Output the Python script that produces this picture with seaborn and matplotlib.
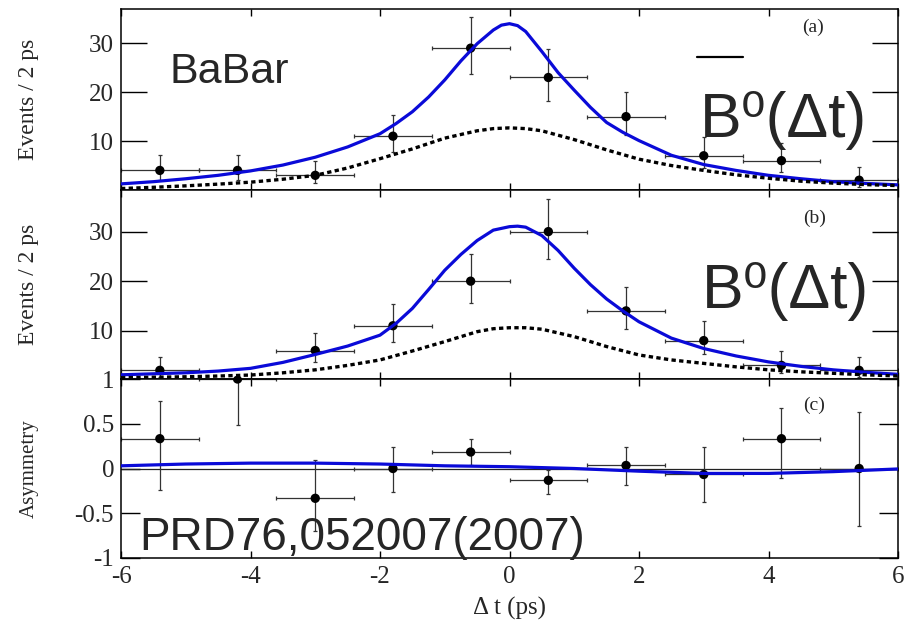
import numpy as np
import pandas as pd
import matplotlib
matplotlib.use("Agg")
import matplotlib.pyplot as plt
from matplotlib.lines import Line2D
import seaborn as sns

# ---------------- data ----------------
bin_centers = [-5.4, -4.2, -3.0, -1.8, -0.6, 0.6, 1.8, 3.0, 4.2, 5.4]
bin_half = 0.6

events_a = [4, 4, 3, 11, 29, 23, 15, 7, 6, 2]
err_a_lo = [1.91, 1.91, 1.63, 3.30, 5.36, 4.77, 3.83, 2.58, 2.38, 1.29]
err_a_hi = [3.16, 3.16, 2.92, 4.38, 6.44, 5.84, 4.96, 3.77, 3.58, 2.64]

events_b = [2, 0, 6, 11, 20, 30, 14, 8, 3, 2]
err_b_lo = [1.29, 0.0, 2.38, 3.30, 4.44, 5.46, 3.70, 2.77, 1.63, 1.29]
err_b_hi = [2.64, 0.0, 3.58, 4.38, 5.53, 6.54, 4.84, 3.94, 2.92, 2.64]

asym = [0.333, 1.0, -0.333, 0.0, 0.184, -0.132, 0.034, -0.067, 0.333, 0.0]
asym_lo = [0.57, 0.51, 0.36, 0.26, 0.15, 0.15, 0.22, 0.31, 0.44, 0.64]
asym_hi = [0.42, 0.0, 0.43, 0.24, 0.15, 0.12, 0.21, 0.31, 0.34, 0.63]

fit_a_t = [-6, -5.5, -5, -4.5, -4, -3.5, -3, -2.5, -2, -1.75, -1.5, -1.25, -1, -0.75,
           -0.5, -0.25, -0.125, 0, 0.125, 0.25, 0.5, 0.75, 1, 1.25, 1.5, 1.75, 2,
           2.5, 3, 3.5, 4, 4.5, 5, 5.5, 6]
fit_a = [1.25, 1.7, 2.3, 3.0, 3.9, 5.1, 6.7, 8.8, 11.5, 13.6, 16.0, 19.0, 22.5, 26.4,
         29.9, 32.7, 33.7, 34.0, 33.6, 32.4, 28.3, 24.0, 20.4, 16.9, 13.8, 11.8, 10.1,
         7.1, 5.2, 4.0, 3.0, 2.3, 1.7, 1.35, 1.05]
bkg_a_t = [-6, -5.5, -5, -4.5, -4, -3.5, -3, -2.5, -2, -1.5, -1, -0.5, -0.25, 0,
           0.25, 0.5, 1, 1.5, 2, 2.5, 3, 3.5, 4, 4.5, 5, 5.5, 6]
bkg_a = [0.3, 0.55, 0.85, 1.2, 1.6, 2.2, 3.0, 4.5, 6.4, 8.4, 10.6, 12.1, 12.55, 12.7,
         12.55, 12.1, 10.3, 8.2, 6.3, 5.0, 4.0, 3.1, 2.4, 1.8, 1.4, 1.1, 0.9]

fit_b_t = [-6, -5.5, -5, -4.5, -4, -3.5, -3, -2.5, -2, -1.75, -1.5, -1.25, -1, -0.75,
           -0.5, -0.25, 0, 0.125, 0.25, 0.5, 0.75, 1, 1.25, 1.5, 1.75, 2, 2.5, 3,
           3.5, 4, 4.5, 5, 5.5, 6]
fit_b = [1.1, 1.3, 1.5, 1.85, 2.4, 3.6, 5.2, 6.9, 9.1, 11.5, 14.5, 18.3, 22.2, 25.4,
         28.2, 30.3, 31.0, 31.1, 30.9, 29.2, 26.2, 22.6, 19.3, 16.4, 14.0, 11.8, 8.5,
         6.4, 4.9, 3.7, 2.8, 2.1, 1.6, 1.2]
bkg_b_t = [-6, -5.5, -5, -4.5, -4, -3.5, -3, -2.5, -2, -1.5, -1, -0.5, -0.25, 0,
           0.25, 0.5, 1, 1.5, 2, 2.5, 3, 3.5, 4, 4.5, 5, 5.5, 6]
bkg_b = [0.5, 0.6, 0.7, 0.85, 1.05, 1.5, 2.1, 3.0, 4.1, 5.9, 7.8, 9.8, 10.4, 10.6,
         10.6, 10.3, 8.8, 6.8, 5.1, 4.1, 3.4, 2.7, 2.1, 1.7, 1.4, 1.1, 0.85]

fit_c_t = [-6, -5, -4, -3, -2, -1, 0, 1, 2, 3, 4, 5, 6]
fit_c = [0.03, 0.05, 0.06, 0.06, 0.05, 0.03, 0.02, 0.0, -0.03, -0.055, -0.055, -0.035, -0.005]

x_ticks = [-6, -4, -2, 0, 2, 4, 6]
events_ticks = [10, 20, 30]
asym_ticks = [-1, -0.5, 0, 0.5, 1]
asym_ticklabels = ["-1", "-0.5", "0", "0.5", "1"]

# ---------------- style ----------------
sns.set_theme(style="ticks")
plt.rcParams["font.family"] = ["Liberation Serif", "DejaVu Serif"]
plt.rcParams["axes.unicode_minus"] = False

W, H = 913, 621
fig = plt.figure(figsize=(W / 100, H / 100), dpi=100)

L, R = 121, 898
def axes_px(top, bottom):
    return fig.add_axes([L / W, 1 - bottom / H, (R - L) / W, (bottom - top) / H])

ax_a = axes_px(9, 190)
ax_b = axes_px(190, 379)
ax_c = axes_px(379, 558)

BLUE = "#0a0ad8"
SANS = ["Liberation Sans", "DejaVu Sans"]

def draw_data(ax, y, lo, hi):
    ax.errorbar(bin_centers, y, yerr=[lo, hi], xerr=bin_half, fmt="none",
                ecolor="#333333", elinewidth=0.9, capsize=1.6, capthick=0.9, zorder=2)
    sns.scatterplot(x=bin_centers, y=y, ax=ax, color="black", s=45,
                    edgecolor="none", zorder=3, legend=False)

def style_axes(ax, ylen):
    ax.set_xlim(-6, 6)
    ax.set_xticks(x_ticks)
    ax.tick_params(axis="x", direction="in", top=True, bottom=True, length=5,
                   width=1.0, color="black", labelsize=18, pad=6)
    ax.tick_params(axis="y", direction="in", left=True, right=True, length=ylen,
                   width=1.0, color="black", labelsize=18, pad=5)
    for s in ax.spines.values():
        s.set_visible(True)
        s.set_linewidth(1.1)
        s.set_color("black")

def draw_curve(ax, t, v, color, dotted=False):
    sns.lineplot(x=t, y=v, ax=ax, color=color, lw=2.3 if not dotted else 2.4,
                 zorder=4, sort=True)
    line = ax.lines[-1]
    line.set_solid_joinstyle("round")
    if dotted:
        line.set_linestyle((0, (1.3, 1.0)))

# panel a
draw_data(ax_a, events_a, err_a_lo, err_a_hi)
draw_curve(ax_a, fit_a_t, fit_a, BLUE)
draw_curve(ax_a, bkg_a_t, bkg_a, "black", dotted=True)
ax_a.set_ylim(0, 37)
ax_a.set_yticks(events_ticks)
style_axes(ax_a, 19)
ax_a.tick_params(axis="x", labelbottom=False)
ax_a.set_ylabel("Events / 2 ps", fontsize=17)

# panel b
draw_data(ax_b, events_b, err_b_lo, err_b_hi)
draw_curve(ax_b, fit_b_t, fit_b, BLUE)
draw_curve(ax_b, bkg_b_t, bkg_b, "black", dotted=True)
ax_b.set_ylim(0.25, 38.4)
ax_b.set_yticks(events_ticks)
style_axes(ax_b, 19)
ax_b.tick_params(axis="x", labelbottom=False)
ax_b.set_ylabel("Events / 2 ps", fontsize=17)

# panel c
ax_c.axhline(0, color="#222222", lw=0.9, zorder=1)
draw_data(ax_c, asym, asym_lo, asym_hi)
draw_curve(ax_c, fit_c_t, fit_c, BLUE)
ax_c.set_ylim(-1, 1)
ax_c.set_yticks(asym_ticks)
ax_c.set_yticklabels(asym_ticklabels)
style_axes(ax_c, 14)
ax_c.set_ylabel("Asymmetry", fontsize=15)
ax_c.set_xlabel("Δ t (ps)", fontsize=18, labelpad=6)

for ax in (ax_a, ax_b, ax_c):
    ax.yaxis.set_label_coords(-0.106, 0.5)

# panel tags
def ftext(x, y, s, **kw):
    fig.text(x / W, 1 - y / H, s, **kw)

ftext(813, 27, "(a)", fontsize=14, ha="center", va="center")
ftext(815, 218, "(b)", fontsize=14, ha="center", va="center")
ftext(814, 405, "(c)", fontsize=14, ha="center", va="center")

# annotations (sans-serif, large)
ftext(169, 82.7, "BaBar", fontsize=31, ha="left", va="baseline", family=SANS)
ftext(700, 136.7, "B⁰(Δt)", fontsize=45, ha="left", va="baseline", family=SANS)
fig.add_artist(Line2D([697 / W, 743 / W], [1 - 57 / H, 1 - 57 / H],
                      transform=fig.transFigure, color="black", lw=1.6))
ftext(702, 308.3, "B⁰(Δt)", fontsize=45, ha="left", va="baseline", family=SANS)
ftext(139, 550, "PRD76,052007(2007)", fontsize=33, ha="left", va="baseline", family=SANS)

fig.savefig("out.png", dpi=100)
